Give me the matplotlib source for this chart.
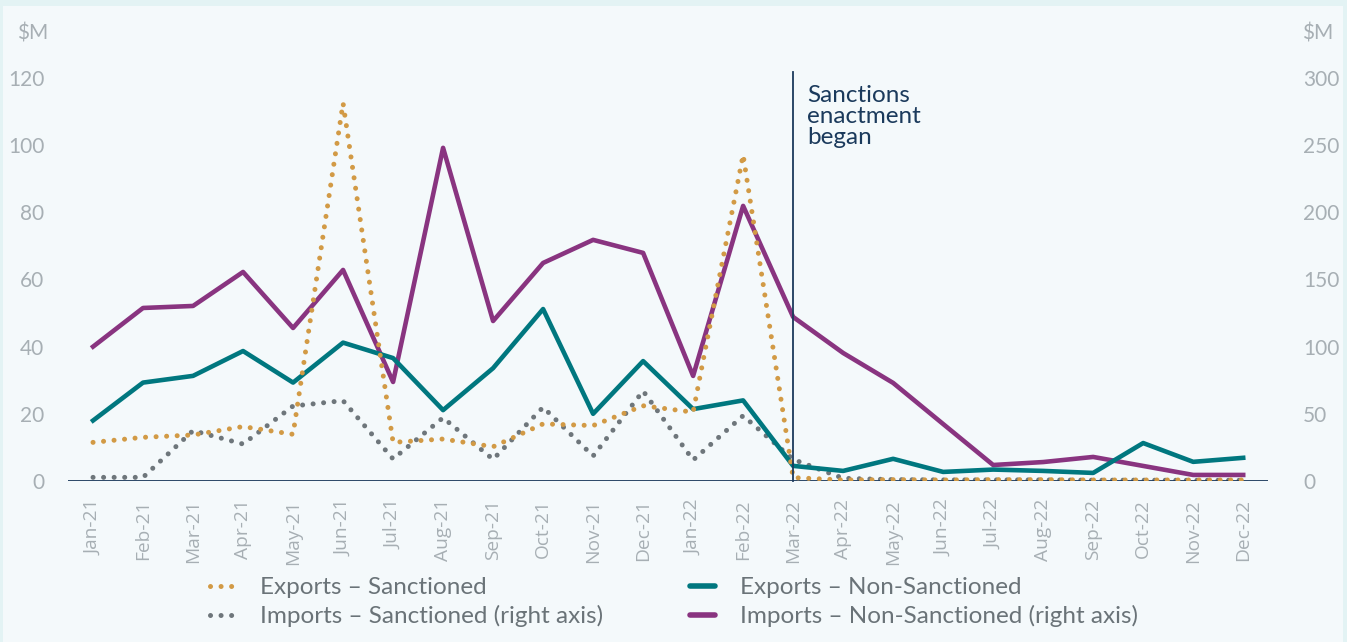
import matplotlib
matplotlib.use("Agg")
import matplotlib.pyplot as plt
from matplotlib.lines import Line2D
from matplotlib.patches import Rectangle

# monthly trade values, $M
months = ["Jan-21", "Feb-21", "Mar-21", "Apr-21", "May-21", "Jun-21", "Jul-21", "Aug-21",
          "Sep-21", "Oct-21", "Nov-21", "Dec-21", "Jan-22", "Feb-22", "Mar-22", "Apr-22",
          "May-22", "Jun-22", "Jul-22", "Aug-22", "Sep-22", "Oct-22", "Nov-22", "Dec-22"]

exports_sanctioned = [11.5, 13.0, 13.7, 16.2, 13.9, 112.5, 11.5, 12.5, 10.2, 17.0, 16.5, 22.4,
                      20.5, 97.1, 1.0, 0.3, 0.4, 0.3, 0.4, 0.4, 0.3, 0.3, 0.3, 0.3]
exports_non_sanctioned = [18.0, 29.3, 31.3, 38.7, 29.3, 41.2, 36.6, 21.1, 33.6, 51.2, 20.0, 35.7,
                          21.4, 24.0, 4.5, 3.0, 6.6, 2.7, 3.4, 3.0, 2.4, 11.3, 5.7, 6.9]
imports_sanctioned = [2.7, 2.7, 37.5, 27.5, 55.8, 59.8, 16.4, 47.1, 16.1, 54.9, 18.6, 67.0,
                      15.6, 48.6, 16.1, 2.0, 1.0, 0.8, 0.8, 0.8, 0.6, 0.6, 0.5, 0.5]
imports_non_sanctioned = [100.0, 128.8, 130.3, 155.6, 113.9, 157.1, 73.7, 248.0, 119.1, 162.3, 179.5, 169.8,
                          78.2, 204.8, 122.1, 95.3, 73.0, 42.4, 11.9, 14.1, 17.9, 11.2, 4.5, 4.5]

left_ticks = [0, 20, 40, 60, 80, 100, 120]
right_ticks = [0, 50, 100, 150, 200, 250, 300]
sanctions_month = "Mar-22"

GOLD = "#d29a45"
TEAL = "#00777f"
GREY = "#6e767b"
PURPLE = "#893480"
NAVY = "#1b3a5c"
TICK_GREY = "#a7afb4"
TEXT_GREY = "#6a7378"

fig = plt.figure(figsize=(13.47, 6.42), dpi=100)
fig.patch.set_facecolor("#e3f3f4")
fig.add_artist(Rectangle((0.002, 0), 0.995, 0.991, transform=fig.transFigure,
                         facecolor="#f4f9fb", edgecolor="none", zorder=-10))

ax = fig.add_axes([0.0505, 0.2508, 0.891, 0.6277])
ax2 = ax.twinx()
for a in (ax, ax2):
    a.patch.set_visible(False)
    for s in a.spines.values():
        s.set_visible(False)

x = list(range(len(months)))
dots = dict(linestyle=(0, (0.01, 2.1)), dash_capstyle="round", linewidth=3.6)

ax2.plot(x, imports_sanctioned, color=GREY, zorder=2, **dots)
ax2.plot(x, imports_non_sanctioned, color=PURPLE, linewidth=3.3, zorder=3)
ax.plot(x, exports_sanctioned, color=GOLD, zorder=5, **dots)
ax.plot(x, exports_non_sanctioned, color=TEAL, linewidth=3.3, zorder=3)
ax.set_zorder(ax2.get_zorder() + 1)

ax.set_xlim(-0.5, len(months) - 0.5)
ax.set_ylim(0, 120)
ax2.set_ylim(0, 300)
ax.axhline(0, color=NAVY, linewidth=1.3, zorder=4)

ax.set_xticks(x)
ax.set_xticklabels(months, rotation=90, color=TICK_GREY, fontsize=13.8, family="Open Sans")
ax.tick_params(axis="x", length=0, pad=13)
ax.set_yticks(left_ticks)
ax.set_yticklabels(left_ticks, color=TICK_GREY, fontsize=15, family="Lato")
ax.tick_params(axis="y", length=0, pad=17)
ax2.set_yticks(right_ticks)
ax2.set_yticklabels(right_ticks, color=TICK_GREY, fontsize=15, family="Lato")
ax2.tick_params(axis="y", length=0, pad=25)

fig.text(48 / 1347, 1 - 33 / 642, "$M", ha="right", va="center", color=TICK_GREY, fontsize=15, family="Lato")
fig.text(1302 / 1347, 1 - 33 / 642, "$M", ha="left", va="center", color=TICK_GREY, fontsize=15, family="Lato")

# sanctions marker
sx = months.index(sanctions_month)
ax.plot([sx, sx], [0, 121.8], color=NAVY, linewidth=1.3, clip_on=False, zorder=5)
ax.text(sx + 0.28, 117.8, "Sanctions\nenactment\nbegan", color=NAVY, fontsize=17.5,
        family="Lato", va="top", ha="left", linespacing=0.98)

handles = [
    Line2D([], [], color=GOLD, **dots),
    Line2D([], [], color=GREY, **dots),
    Line2D([], [], color=TEAL, linewidth=4.0, solid_capstyle="round"),
    Line2D([], [], color=PURPLE, linewidth=4.0, solid_capstyle="round"),
]
labels = ["Exports – Sanctioned", "Imports – Sanctioned (right axis)",
          "Exports – Non-Sanctioned", "Imports – Non-Sanctioned (right axis)"]
leg = fig.legend(handles, labels, ncol=2, loc="upper left", bbox_to_anchor=(210 / 1347, 1 - 577 / 642),
                 frameon=False, borderpad=0, borderaxespad=0, handlelength=1.0, handletextpad=1.05,
                 columnspacing=3.6, labelspacing=0.3, prop={"family": "Lato", "size": 17.5})
for t in leg.get_texts():
    t.set_color(TEXT_GREY)

fig.savefig("out.png", dpi=100, facecolor=fig.get_facecolor())
